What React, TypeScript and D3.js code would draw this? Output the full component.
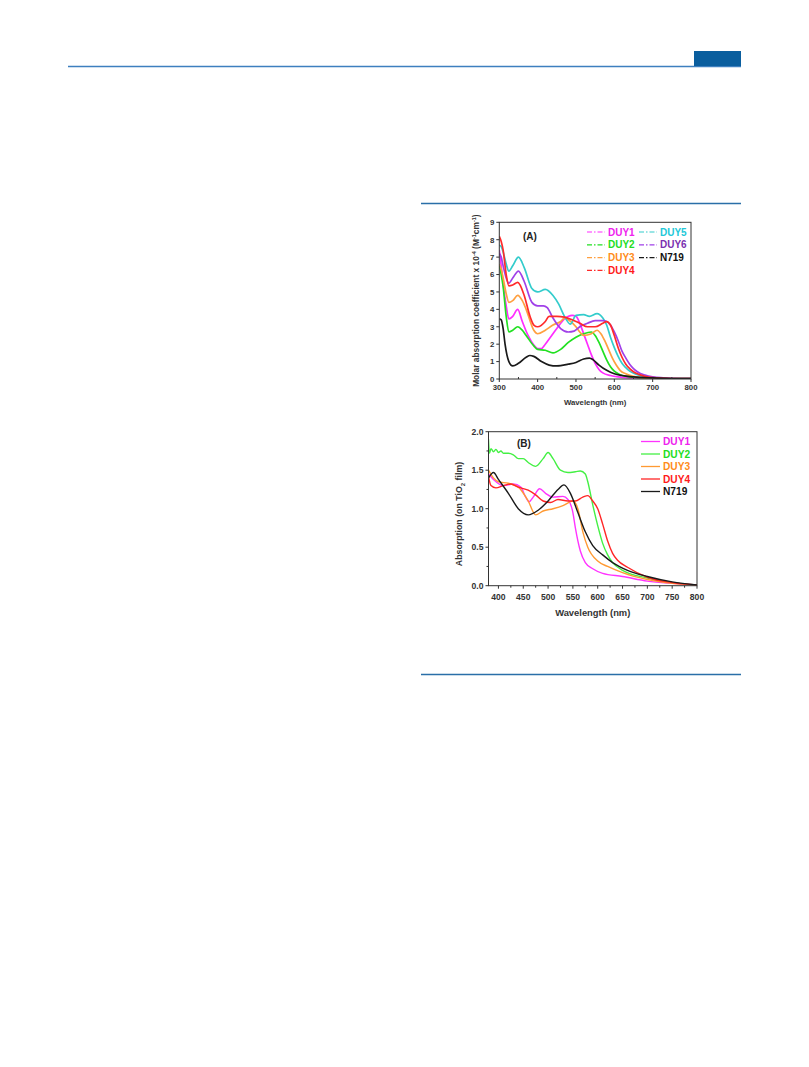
import React from "react";
import * as d3 from "d3";

// ---------- Panel A data (molar absorption, x10^4) ----------
const nmA_DUY1 = [300, 305, 310, 318, 325, 335, 348, 360, 375, 390, 400, 410, 420, 430, 450, 470, 490, 500, 510, 520, 530, 540, 550, 560, 570, 590, 610, 650, 700, 800];
const valA_DUY1 = [7.4, 6.5, 5.5, 4.2, 3.45, 3.6, 4.0, 3.3, 2.5, 1.95, 1.75, 1.75, 2.0, 2.3, 2.9, 3.45, 3.65, 3.6, 3.2, 2.6, 2.0, 1.4, 0.9, 0.55, 0.35, 0.2, 0.12, 0.06, 0.03, 0.02];

const nmA_DUY2 = [300, 305, 310, 318, 325, 335, 348, 360, 370, 390, 400, 420, 440, 460, 480, 500, 520, 540, 550, 560, 570, 580, 590, 600, 615, 640, 700, 800];
const valA_DUY2 = [6.5, 6.0, 5.3, 3.6, 2.7, 2.8, 3.0, 2.8, 2.5, 1.9, 1.7, 1.65, 1.5, 1.7, 2.1, 2.4, 2.6, 2.7, 2.5, 2.1, 1.6, 1.1, 0.7, 0.45, 0.25, 0.12, 0.04, 0.02];

const nmA_DUY3 = [300, 305, 310, 318, 325, 335, 348, 360, 370, 390, 400, 420, 440, 460, 470, 480, 500, 510, 520, 540, 555, 565, 575, 585, 595, 605, 615, 630, 650, 700, 800];
const valA_DUY3 = [6.6, 6.3, 5.8, 4.9, 4.4, 4.5, 4.8, 4.5, 4.0, 2.8, 2.6, 2.8, 3.1, 3.3, 3.5, 3.4, 3.0, 2.7, 2.5, 2.6, 2.8, 2.6, 2.2, 1.7, 1.2, 0.8, 0.5, 0.3, 0.15, 0.05, 0.02];

const nmA_DUY4 = [300, 305, 310, 318, 325, 335, 348, 365, 380, 390, 400, 420, 430, 450, 470, 490, 510, 530, 550, 570, 580, 590, 600, 610, 620, 630, 640, 650, 660, 680, 700, 750, 800];
const valA_DUY4 = [8.2, 7.9, 7.4, 6.0, 5.35, 5.4, 5.55, 4.8, 3.6, 3.1, 3.0, 3.3, 3.6, 3.6, 3.55, 3.4, 3.2, 3.0, 3.0, 3.2, 3.3, 3.1, 2.5, 1.8, 1.25, 0.85, 0.6, 0.42, 0.3, 0.15, 0.08, 0.03, 0.02];

const nmA_DUY5 = [300, 305, 310, 318, 325, 335, 350, 365, 385, 400, 420, 440, 455, 470, 485, 500, 520, 535, 555, 570, 580, 590, 600, 610, 620, 630, 640, 660, 700, 750, 800];
const valA_DUY5 = [7.7, 7.6, 7.3, 6.6, 6.2, 6.5, 7.0, 6.4, 5.2, 5.0, 5.15, 4.8, 4.3, 3.6, 3.15, 3.65, 3.7, 3.6, 3.75, 3.5, 3.1, 2.4, 1.8, 1.3, 0.9, 0.65, 0.45, 0.25, 0.08, 0.03, 0.02];

const nmA_DUY6 = [300, 305, 310, 318, 325, 335, 350, 365, 385, 400, 415, 425, 440, 460, 480, 495, 510, 530, 550, 570, 580, 590, 600, 610, 620, 630, 640, 650, 660, 680, 700, 750, 800];
const valA_DUY6 = [7.2, 7.0, 6.5, 5.8, 5.5, 5.8, 6.2, 5.6, 4.4, 4.2, 4.2, 4.1, 3.5, 2.9, 2.7, 2.75, 3.0, 3.2, 3.35, 3.35, 3.3, 3.1, 2.7, 2.2, 1.6, 1.2, 0.85, 0.6, 0.42, 0.22, 0.12, 0.04, 0.02];

const nmA_N719 = [300, 305, 310, 315, 325, 335, 350, 370, 380, 390, 410, 430, 450, 480, 500, 520, 535, 545, 560, 580, 600, 620, 650, 700, 750, 800];
const valA_N719 = [3.45, 3.4, 2.9, 2.0, 1.0, 0.75, 0.9, 1.25, 1.35, 1.3, 1.0, 0.8, 0.75, 0.85, 0.95, 1.15, 1.2, 1.1, 0.8, 0.5, 0.3, 0.2, 0.12, 0.06, 0.03, 0.02];

// ---------- Panel B data (absorption on TiO2 film) ----------
const nmB_DUY1 = [380, 390, 410, 430, 445, 455, 462, 470, 483, 495, 510, 530, 540, 550, 555, 565, 575, 590, 610, 650, 700, 750, 800];
const valB_DUY1 = [1.45, 1.38, 1.3, 1.32, 1.28, 1.15, 1.09, 1.15, 1.26, 1.2, 1.15, 1.16, 1.12, 0.95, 0.75, 0.45, 0.3, 0.22, 0.16, 0.12, 0.06, 0.03, 0.01];

const nmB_DUY2 = [380, 382, 385, 390, 395, 400, 405, 410, 420, 430, 440, 450, 460, 475, 490, 500, 510, 525, 540, 555, 565, 575, 580, 590, 600, 610, 620, 630, 650, 700, 750, 800];
const valB_DUY2 = [1.9, 1.72, 1.78, 1.74, 1.77, 1.73, 1.75, 1.72, 1.72, 1.7, 1.65, 1.65, 1.6, 1.55, 1.65, 1.73, 1.65, 1.5, 1.47, 1.48, 1.49, 1.45, 1.35, 1.05, 0.78, 0.55, 0.4, 0.3, 0.2, 0.1, 0.04, 0.01];

const nmB_DUY3 = [380, 390, 400, 420, 440, 460, 475, 490, 510, 530, 550, 560, 570, 580, 600, 620, 650, 700, 750, 800];
const valB_DUY3 = [1.5, 1.4, 1.35, 1.33, 1.28, 1.1, 0.92, 0.97, 1.0, 1.04, 1.1, 1.0, 0.7, 0.5, 0.32, 0.25, 0.17, 0.08, 0.03, 0.01];

const nmB_DUY4 = [380, 385, 395, 410, 425, 440, 460, 475, 490, 505, 520, 540, 555, 570, 580, 590, 600, 610, 620, 630, 640, 660, 700, 750, 800];
const valB_DUY4 = [1.42, 1.3, 1.27, 1.3, 1.32, 1.28, 1.24, 1.18, 1.1, 1.08, 1.12, 1.1, 1.1, 1.15, 1.17, 1.1, 1.0, 0.8, 0.58, 0.42, 0.33, 0.24, 0.11, 0.04, 0.01];

const nmB_N719 = [380, 390, 400, 420, 440, 460, 480, 500, 520, 532, 545, 560, 575, 590, 610, 630, 660, 700, 750, 800];
const valB_N719 = [1.4, 1.47, 1.38, 1.2, 1.0, 0.92, 0.98, 1.1, 1.25, 1.31, 1.2, 0.95, 0.7, 0.52, 0.4, 0.3, 0.2, 0.12, 0.05, 0.01];

const namesB = ["DUY1", "DUY2", "DUY3", "DUY4", "N719"];

const ticksAX = [300, 400, 500, 600, 700, 800];
const ticksAY = [0, 1, 2, 3, 4, 5, 6, 7, 8, 9];
const ticksBX = [400, 450, 500, 550, 600, 650, 700, 750, 800];
const ticksBY = [0, 0.5, 1.0, 1.5, 2.0];

const lineColor: Record<string, string> = {
  DUY1: "#ff2cff",
  DUY2: "#22e022",
  DUY3: "#ffa040",
  DUY4: "#ff2a2a",
  DUY5: "#33cccc",
  DUY6: "#a040e8",
  N719: "#1a1a1a",
};
const textColor: Record<string, string> = {
  DUY1: "#ee22ee",
  DUY2: "#22dd22",
  DUY3: "#ff8c1a",
  DUY4: "#ff1a1a",
  DUY5: "#22c8d8",
  DUY6: "#7a30b0",
  N719: "#111",
};
const lineColorB: Record<string, string> = {
  DUY1: "#ff33ff",
  DUY2: "#44f044",
  DUY3: "#ff9a33",
  DUY4: "#ff2626",
  N719: "#1a1a1a",
};

const seriesA = [
  { name: "DUY1", x: nmA_DUY1, y: valA_DUY1 },
  { name: "DUY2", x: nmA_DUY2, y: valA_DUY2 },
  { name: "DUY3", x: nmA_DUY3, y: valA_DUY3 },
  { name: "DUY5", x: nmA_DUY5, y: valA_DUY5 },
  { name: "DUY6", x: nmA_DUY6, y: valA_DUY6 },
  { name: "DUY4", x: nmA_DUY4, y: valA_DUY4 },
  { name: "N719", x: nmA_N719, y: valA_N719 },
];
const seriesB = [
  { name: "DUY2", x: nmB_DUY2, y: valB_DUY2 },
  { name: "DUY1", x: nmB_DUY1, y: valB_DUY1 },
  { name: "DUY3", x: nmB_DUY3, y: valB_DUY3 },
  { name: "DUY4", x: nmB_DUY4, y: valB_DUY4 },
  { name: "N719", x: nmB_N719, y: valB_N719 },
];

const FONT = "'Liberation Sans', Arial, sans-serif";

export default function App() {
  const xA = d3.scaleLinear().domain([300, 800]).range([499.3, 691]);
  const yA = d3.scaleLinear().domain([0, 9]).range([379, 222.3]);
  const xB = d3.scaleLinear().domain([380, 800]).range([488.5, 697]);
  const yB = d3.scaleLinear().domain([0, 2]).range([585.7, 431.7]);

  const mkLine = (xs: any, ys: any) =>
    d3
      .line<[number, number]>()
      .x((d) => xs(d[0]))
      .y((d) => ys(d[1]))
      .curve(d3.curveMonotoneX);

  const lineA = mkLine(xA, yA);
  const lineB = mkLine(xB, yB);

  const axisTxt = "#333";

  const legA = [
    { name: "DUY1", col: 0, row: 0 },
    { name: "DUY2", col: 0, row: 1 },
    { name: "DUY3", col: 0, row: 2 },
    { name: "DUY4", col: 0, row: 3 },
    { name: "DUY5", col: 1, row: 0 },
    { name: "DUY6", col: 1, row: 1 },
    { name: "N719", col: 1, row: 2 },
  ];

  const minorAX = d3.range(350, 800, 100);
  const minorBX: number[] = [];
  const minorBY = [0.25, 0.75, 1.25, 1.75];
  for (let v = 425; v < 800; v += 50) minorBX.push(v);

  return (
    <svg
      width={809}
      height={1067}
      style={{ position: "absolute", left: 0, top: 0, background: "#fff" }}
      fontFamily={FONT}
    >
      <rect x={0} y={0} width={809} height={1067} fill="#fff" />
      {/* page header */}
      <line x1={68} x2={741} y1={66.5} y2={66.5} stroke="#3d7fbf" strokeWidth={1.6} />
      <rect x={694} y={51} width={47} height={15} fill="#0a5e9e" />
      {/* figure frame rules */}
      <line x1={421} x2={741} y1={203.5} y2={203.5} stroke="#2a6fa8" strokeWidth={1.6} />
      <line x1={421} x2={741} y1={674.5} y2={674.5} stroke="#2a6fa8" strokeWidth={1.6} />

      {/* ---------- Panel A ---------- */}
      <g>
        <clipPath id="clipA">
          <rect x={xA(300)} y={yA(9)} width={xA(800) - xA(300)} height={yA(0) - yA(9)} />
        </clipPath>
        <g clipPath="url(#clipA)">
          {seriesA.map((s) => (
            <path
              key={s.name}
              d={lineA(s.x.map((v, i) => [v, s.y[i]] as [number, number])) || ""}
              fill="none"
              stroke={lineColor[s.name]}
              strokeWidth={1.7}
            />
          ))}
        </g>
        <rect
          x={xA(300)}
          y={yA(9)}
          width={xA(800) - xA(300)}
          height={yA(0) - yA(9)}
          fill="none"
          stroke="#333"
          strokeWidth={1}
        />
        {ticksAX.map((t) => (
          <g key={"ax" + t}>
            <line x1={xA(t)} x2={xA(t)} y1={yA(0)} y2={yA(0) + 3} stroke="#333" />
            <text x={xA(t)} y={yA(0) + 11} fontSize={7.8} fontWeight="bold" fill={axisTxt} textAnchor="middle">
              {t}
            </text>
          </g>
        ))}
        {minorAX.map((t) => (
          <line key={"amx" + t} x1={xA(t)} x2={xA(t)} y1={yA(0)} y2={yA(0) - 2} stroke="#333" />
        ))}
        {ticksAY.map((t) => (
          <g key={"ay" + t}>
            <line x1={xA(300) - 3} x2={xA(300)} y1={yA(t)} y2={yA(t)} stroke="#333" />
            <text x={xA(300) - 5} y={yA(t) + 2.8} fontSize={7.8} fontWeight="bold" fill={axisTxt} textAnchor="end">
              {t}
            </text>
          </g>
        ))}
        <text x={(xA(300) + xA(800)) / 2} y={404.5} fontSize={7.8} fontWeight="bold" fill={axisTxt} textAnchor="middle">
          Wavelength (nm)
        </text>
        <text
          transform={`translate(479, ${(yA(0) + yA(9)) / 2}) rotate(-90)`}
          fontSize={8.4}
          fontWeight="bold"
          fill={axisTxt}
          textAnchor="middle"
        >
          Molar absorption coefficient x 10
          <tspan dy={-3.3} fontSize={5.5}>-4</tspan>
          <tspan dy={3.3}> (M</tspan>
          <tspan dy={-3.3} fontSize={5.5}>-1</tspan>
          <tspan dy={3.3}>cm</tspan>
          <tspan dy={-3.3} fontSize={5.5}>-1</tspan>
          <tspan dy={3.3}>)</tspan>
        </text>
        <text x={523} y={240} fontSize={10} fontWeight="bold" fill="#222">
          (A)
        </text>
        {legA.map((l) => {
          const lx = l.col === 0 ? 587 : 639;
          const ly = 232 + l.row * 12.8;
          return (
            <g key={"la" + l.name}>
              <line
                x1={lx}
                x2={lx + 18}
                y1={ly}
                y2={ly}
                stroke={lineColor[l.name]}
                strokeWidth={1.2}
                strokeDasharray="5,2,1.5,2"
              />
              <text x={lx + 21} y={ly + 3.6} fontSize={10} fontWeight="bold" fill={textColor[l.name]}>
                {l.name}
              </text>
            </g>
          );
        })}
      </g>

      {/* ---------- Panel B ---------- */}
      <g>
        <clipPath id="clipB">
          <rect x={xB(380)} y={yB(2)} width={xB(800) - xB(380)} height={yB(0) - yB(2)} />
        </clipPath>
        <g clipPath="url(#clipB)">
          {seriesB.map((s) => (
            <path
              key={s.name}
              d={lineB(s.x.map((v, i) => [v, s.y[i]] as [number, number])) || ""}
              fill="none"
              stroke={lineColorB[s.name]}
              strokeWidth={1.4}
            />
          ))}
        </g>
        <rect
          x={xB(380)}
          y={yB(2)}
          width={xB(800) - xB(380)}
          height={yB(0) - yB(2)}
          fill="none"
          stroke="#333"
          strokeWidth={1}
        />
        {ticksBX.map((t) => (
          <g key={"bx" + t}>
            <line x1={xB(t)} x2={xB(t)} y1={yB(0)} y2={yB(0) + 3} stroke="#333" />
            <text x={xB(t)} y={yB(0) + 14} fontSize={8.6} fontWeight="bold" fill={axisTxt} textAnchor="middle">
              {t}
            </text>
          </g>
        ))}
        {minorBX.map((t) => (
          <line key={"bmx" + t} x1={xB(t)} x2={xB(t)} y1={yB(0)} y2={yB(0) + 2} stroke="#333" />
        ))}
        {ticksBY.map((t) => (
          <g key={"by" + t}>
            <line x1={xB(380) - 3} x2={xB(380)} y1={yB(t)} y2={yB(t)} stroke="#333" />
            <text x={xB(380) - 5} y={yB(t) + 3} fontSize={8.6} fontWeight="bold" fill={axisTxt} textAnchor="end">
              {t.toFixed(1)}
            </text>
          </g>
        ))}
        {minorBY.map((t) => (
          <line key={"bmy" + t} x1={xB(380) - 2} x2={xB(380)} y1={yB(t)} y2={yB(t)} stroke="#333" />
        ))}
        <text x={(xB(380) + xB(800)) / 2} y={615.5} fontSize={9.4} fontWeight="bold" fill={axisTxt} textAnchor="middle">
          Wavelength (nm)
        </text>
        <text
          transform={`translate(462, 514) rotate(-90)`}
          fontSize={8.8}
          fontWeight="bold"
          fill={axisTxt}
          textAnchor="middle"
        >
          Absorption (on TiO
          <tspan dy={2.5} fontSize={6}>2</tspan>
          <tspan dy={-2.5}> film)</tspan>
        </text>
        <text x={517} y={447} fontSize={10} fontWeight="bold" fill="#222">
          (B)
        </text>
        {namesB.map((n, i) => {
          const ly = 441.5 + i * 12.5;
          return (
            <g key={"lb" + n}>
              <line x1={641} x2={660} y1={ly} y2={ly} stroke={lineColorB[n]} strokeWidth={1.3} />
              <text x={663} y={ly + 3.7} fontSize={10.2} fontWeight="bold" fill={textColor[n]}>
                {n}
              </text>
            </g>
          );
        })}
      </g>
    </svg>
  );
}
